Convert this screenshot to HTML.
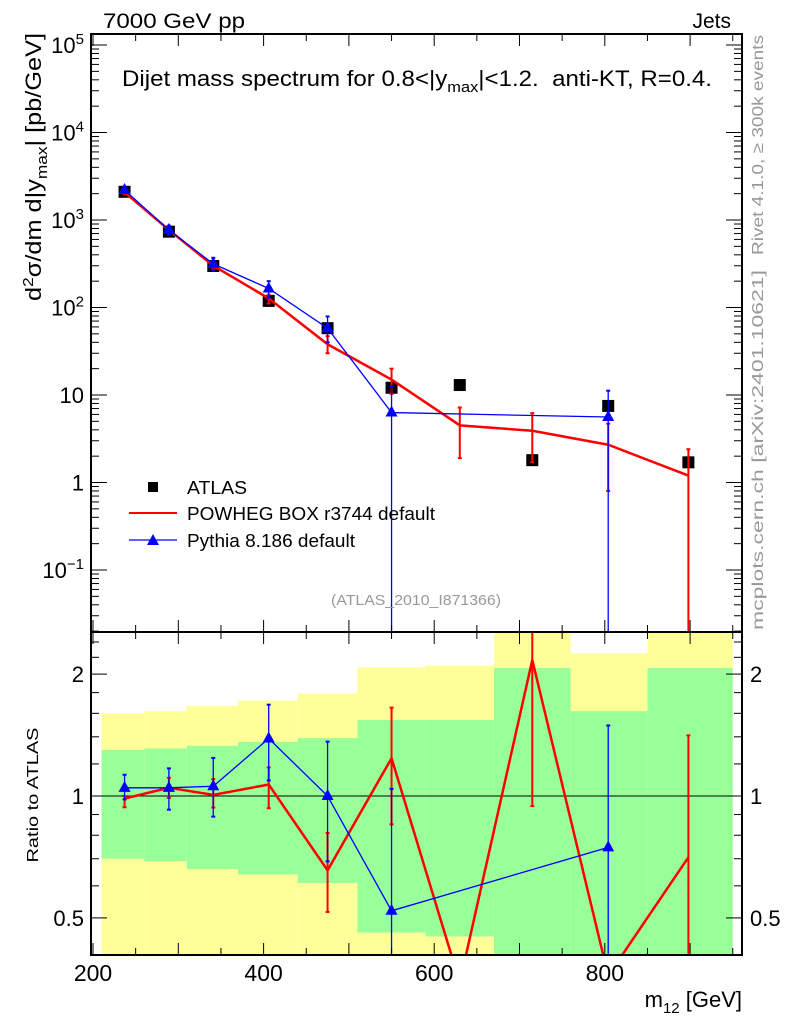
<!DOCTYPE html>
<html><head><meta charset="utf-8">
<style>
body{margin:0;background:#fff;}
svg{display:block;font-family:"Liberation Sans",Arial,sans-serif;}
</style></head>
<body>
<svg id="chart" width="786" height="1024" viewBox="0 0 786 1024" xmlns="http://www.w3.org/2000/svg">
<g id="bands"></g>
<g id="marks"></g>
<g id="axes"></g>
<text x="103" y="28" font-size="21" textLength="142" lengthAdjust="spacingAndGlyphs">7000 GeV pp</text>
<text x="731" y="28" font-size="21" text-anchor="end">Jets</text>
<text x="122" y="86" font-size="22" textLength="590" lengthAdjust="spacingAndGlyphs" xml:space="preserve">Dijet mass spectrum for 0.8&lt;|y<tspan font-size="15" dy="6">max</tspan><tspan dy="-6">|&lt;1.2.  anti-KT, R=0.4.</tspan></text>
<text transform="translate(41,167) rotate(-90)" font-size="22" text-anchor="middle" textLength="268" lengthAdjust="spacingAndGlyphs">d<tspan font-size="15" dy="-8">2</tspan><tspan dy="8">σ/dm d|y</tspan><tspan font-size="15" dy="6">max</tspan><tspan dy="-6">| [pb/GeV]</tspan></text>
<text transform="translate(38,795) rotate(-90)" font-size="16" text-anchor="middle" textLength="135" lengthAdjust="spacingAndGlyphs">Ratio to ATLAS</text>
<text x="742" y="1007" font-size="22" text-anchor="end">m<tspan font-size="15" dy="6">12</tspan><tspan dy="-6"> [GeV]</tspan></text>
<text transform="translate(763,35) rotate(-90)" font-size="16" fill="#999" text-anchor="end" textLength="220" lengthAdjust="spacingAndGlyphs">Rivet 4.1.0, ≥ 300k events</text>
<text transform="translate(763,630) rotate(-90)" font-size="16" fill="#999" textLength="360" lengthAdjust="spacingAndGlyphs">mcplots.cern.ch [arXiv:2401.10621]</text>
<text x="416" y="605" font-size="15" fill="#999" text-anchor="middle" textLength="170" lengthAdjust="spacingAndGlyphs">(ATLAS_2010_I871366)</text>
<g>
<rect x="148" y="482" width="10" height="10" fill="#000"/>
<text x="187" y="494" font-size="18" textLength="60" lengthAdjust="spacingAndGlyphs">ATLAS</text>
<line x1="129" y1="513" x2="177" y2="513" stroke="#f00" stroke-width="2"/>
<text x="187" y="520" font-size="18" textLength="248" lengthAdjust="spacingAndGlyphs">POWHEG BOX r3744 default</text>
<line x1="129" y1="540" x2="177" y2="540" stroke="#00f" stroke-width="1.3"/>
<polygon points="153,534 159,545 147,545" fill="#00f"/>
<text x="187" y="547" font-size="18" textLength="168" lengthAdjust="spacingAndGlyphs">Pythia 8.186 default</text>
</g>
</svg>
<script>
// data
const masses = [237, 289, 341, 406, 475, 550, 630, 715, 804, 898];
const atlas = [2100, 735, 298, 119, 58, 12.1, 13, 1.8, 7.5, 1.7];
const powheg = [2070, 770, 300, 127, 38, 15, 4.5, 3.9, 2.7, 1.2];
const powhegLo = [1970, 727, 279, 111, 30, 10.3, 1.9, 1.7, 0.8, 0];
const powhegHi = [2100, 815, 328, 140, 47, 20, 7.2, 6.2, 4.7, 2.4];
const pythiaMass = [237, 289, 341, 406, 475, 550, 804];
const pythiaAtlas = [2100, 735, 298, 119, 58, 12.1, 7.5];
const pythia = [2200, 770, 315, 165, 58, 6.3, 5.6];
const pythiaLo = [2060, 680, 265, 130, 40, 0, 0];
const pythiaHi = [2370, 860, 370, 200, 79, 12.6, 11.2];
const binEdges = [210, 260, 310, 370, 440, 510, 590, 670, 760, 850, 950];
const yellowTop = [1.60, 1.62, 1.67, 1.72, 1.79, 2.08, 2.10, 2.7, 2.25, 2.7];
const greenTop = [1.30, 1.31, 1.33, 1.36, 1.39, 1.54, 1.54, 2.07, 1.62, 2.07];
const greenBot = [0.70, 0.69, 0.66, 0.64, 0.61, 0.46, 0.45, 0.3, 0.3, 0.3];
const yellowBot = [0.3, 0.3, 0.3, 0.3, 0.3, 0.3, 0.3, 0.3, 0.3, 0.3];
const xTicks = [200, 400, 600, 800];
const ratioTicks = [2, 1, 0.5];
const ratioTickLabels = ["2", "1", "0.5"];

const NS = "http://www.w3.org/2000/svg";
const L = 91, R = 742, T1 = 34, B1 = 632, B2 = 955;
const X = m => 93 + (m - 200) * 0.853;
const Y = v => 482.5 - 87.5 * Math.log10(v);
const YR = r => 796 - 405 * Math.log10(r);
const clampT = y => Math.max(T1, Math.min(B1, y));
const clampR = y => Math.max(B1, Math.min(B2, y));
function mk(tag, attrs, parent) {
  const e = document.createElementNS(NS, tag);
  for (const k in attrs) e.setAttribute(k, attrs[k]);
  parent.appendChild(e);
  return e;
}
const bands = document.getElementById('bands');
const marks = document.getElementById('marks');
const axes = document.getElementById('axes');

for (let i = 0; i < binEdges.length - 1; i++) {
  const x1 = X(binEdges[i]), x2 = X(binEdges[i + 1]);
  const y = mk('rect', {x: x1, y: clampR(YR(yellowTop[i])), width: x2 - x1, height: clampR(YR(yellowBot[i])) - clampR(YR(yellowTop[i])), fill: '#ffff99'}, bands);
  
  
  const g = mk('rect', {x: x1, y: clampR(YR(greenTop[i])), width: x2 - x1, height: clampR(YR(greenBot[i])) - clampR(YR(greenTop[i])), fill: '#99ff99'}, bands);
  
  
}
const one = mk('line', {x1: L, x2: R, y1: YR(1), y2: YR(1), stroke: '#000', 'stroke-width': 1}, bands);



const defs = mk('defs', {}, marks);
const c1 = mk('clipPath', {id: 'ctop'}, defs); mk('rect', {x: L, y: T1, width: R - L, height: B1 - T1}, c1);
const c2 = mk('clipPath', {id: 'cbot'}, defs); mk('rect', {x: L, y: B1, width: R - L, height: B2 - B1}, c2);
const gt = mk('g', {'clip-path': 'url(#ctop)'}, marks);
const gb = mk('g', {'clip-path': 'url(#cbot)'}, marks);

function errbar(parent, x, y1, y2, color, w, name) {
  const l = mk('line', {x1: x, x2: x, y1: y1, y2: y2, stroke: color, 'stroke-width': w}, parent);
  
  
  mk('line', {x1: x - 2, x2: x + 2, y1: y1, y2: y1, stroke: color, 'stroke-width': 2}, parent);
  mk('line', {x1: x - 2, x2: x + 2, y1: y2, y2: y2, stroke: color, 'stroke-width': 2}, parent);
}
const safeY = (f, v, lim) => v > 0 ? f(v) : lim;

masses.forEach((m, i) => {
  const r = mk('rect', {x: X(m) - 6, y: Y(atlas[i]) - 6, width: 12, height: 12, fill: '#000'}, gt);
  
  
});
masses.forEach((m, i) => errbar(gt, X(m), clampT(safeY(Y, powhegLo[i], 700)), clampT(Y(powhegHi[i])), '#f00', 2, 'powheg-error'));
const pl = mk('polyline', {points: masses.map((m, i) => X(m) + ',' + Y(powheg[i])).join(' '), fill: 'none', stroke: '#f00', 'stroke-width': 2.5}, gt);


pythiaMass.forEach((m, i) => errbar(gt, X(m), clampT(safeY(Y, pythiaLo[i], 700)), clampT(Y(pythiaHi[i])), '#00f', 1.3, 'pythia-error'));
const py = mk('polyline', {points: pythiaMass.map((m, i) => X(m) + ',' + Y(pythia[i])).join(' '), fill: 'none', stroke: '#00f', 'stroke-width': 1.3}, gt);


pythiaMass.forEach((m, i) => {
  const x = X(m), y = Y(pythia[i]);
  const t = mk('polygon', {points: `${x},${y - 7} ${x + 6},${y + 4} ${x - 6},${y + 4}`, fill: '#00f'}, gt);
  
  
});

const rp = powheg.map((v, i) => v / atlas[i]);
masses.forEach((m, i) => {
  if (YR(rp[i]) > B2 || YR(rp[i]) < B1) return;
  errbar(gb, X(m), clampR(safeY(YR, powhegLo[i] / atlas[i], 1000)), clampR(YR(powhegHi[i] / atlas[i])), '#f00', 2, 'powheg-ratio-error');
});
const rpl = mk('polyline', {points: masses.map((m, i) => X(m) + ',' + YR(rp[i])).join(' '), fill: 'none', stroke: '#f00', 'stroke-width': 2.5}, gb);


const ry = pythia.map((v, i) => v / pythiaAtlas[i]);
pythiaMass.forEach((m, i) => errbar(gb, X(m), clampR(safeY(YR, pythiaLo[i] / pythiaAtlas[i], 1000)), clampR(YR(pythiaHi[i] / pythiaAtlas[i])), '#00f', 1.3, 'pythia-ratio-error'));
const rpy = mk('polyline', {points: pythiaMass.map((m, i) => X(m) + ',' + YR(ry[i])).join(' '), fill: 'none', stroke: '#00f', 'stroke-width': 1.3}, gb);


pythiaMass.forEach((m, i) => {
  const x = X(m), y = YR(ry[i]);
  const t = mk('polygon', {points: `${x},${y - 7} ${x + 6},${y + 4} ${x - 6},${y + 4}`, fill: '#00f'}, gb);
  
  
});

const f1 = mk('rect', {x: L, y: T1, width: R - L, height: B1 - T1, fill: 'none', stroke: '#000', 'stroke-width': 2}, axes);


const f2 = mk('rect', {x: L, y: B1, width: R - L, height: B2 - B1, fill: 'none', stroke: '#000', 'stroke-width': 2}, axes);



for (let m = 200; m <= 950; m += 50) {
  const len = m % 100 === 0 ? 12 : 7, x = X(m);
  [[T1, 1], [B1, -1], [B1, 1], [B2, -1]].forEach(([y, d]) => mk('line', {x1: x, x2: x, y1: y, y2: y + d * len, stroke: '#000', 'stroke-width': 1}, axes));
}
xTicks.forEach(m => {
  const t = mk('text', {x: X(m), y: 981, 'font-size': 23, 'text-anchor': 'middle'}, axes);
  
  
  t.textContent = m;
});
for (let e = -2; e <= 5; e++) {
  for (let k = 1; k <= 9; k++) {
    const y = Y(k * Math.pow(10, e));
    if (y < T1 || y > B1) continue;
    const len = k === 1 ? 16 : 8;
    mk('line', {x1: L, x2: L + len, y1: y, y2: y, stroke: '#000', 'stroke-width': 1}, axes);
    mk('line', {x1: R, x2: R - len, y1: y, y2: y, stroke: '#000', 'stroke-width': 1}, axes);
  }
}
const topLabels = [[5, '10', '5'], [4, '10', '4'], [3, '10', '3'], [2, '10', '2'], [1, '10', ''], [0, '1', ''], [-1, '10', '−1']];
topLabels.forEach(([e, b, s]) => {
  const t = mk('text', {x: 84, y: Y(Math.pow(10, e)) + 8, 'font-size': 22, 'text-anchor': 'end'}, axes);
  
  
  if (s) {
    const a = document.createElementNS(NS, 'tspan'); a.textContent = b; t.appendChild(a);
    const c = document.createElementNS(NS, 'tspan'); c.setAttribute('font-size', 15); c.setAttribute('dy', -9); c.textContent = s; t.appendChild(c);
  } else t.textContent = b;
});
[0.5, 0.6, 0.7, 0.8, 0.9, 1, 1.2, 1.4, 1.6, 1.8, 2, 2.2, 2.4].forEach(r => {
  const y = YR(r); const len = (r === 0.5 || r === 1 || r === 2) ? 16 : 8;
  mk('line', {x1: L, x2: L + len, y1: y, y2: y, stroke: '#000', 'stroke-width': 1}, axes);
  mk('line', {x1: R, x2: R - len, y1: y, y2: y, stroke: '#000', 'stroke-width': 1}, axes);
});
ratioTicks.forEach((r, i) => {
  const t = mk('text', {x: 84, y: YR(r) + 8, 'font-size': 22, 'text-anchor': 'end'}, axes);
  
  
  t.textContent = ratioTickLabels[i];
  const t2 = mk('text', {x: 750, y: YR(r) + 8, 'font-size': 22}, axes);
  
  
  t2.textContent = ratioTickLabels[i];
});
</script>
</body></html>
